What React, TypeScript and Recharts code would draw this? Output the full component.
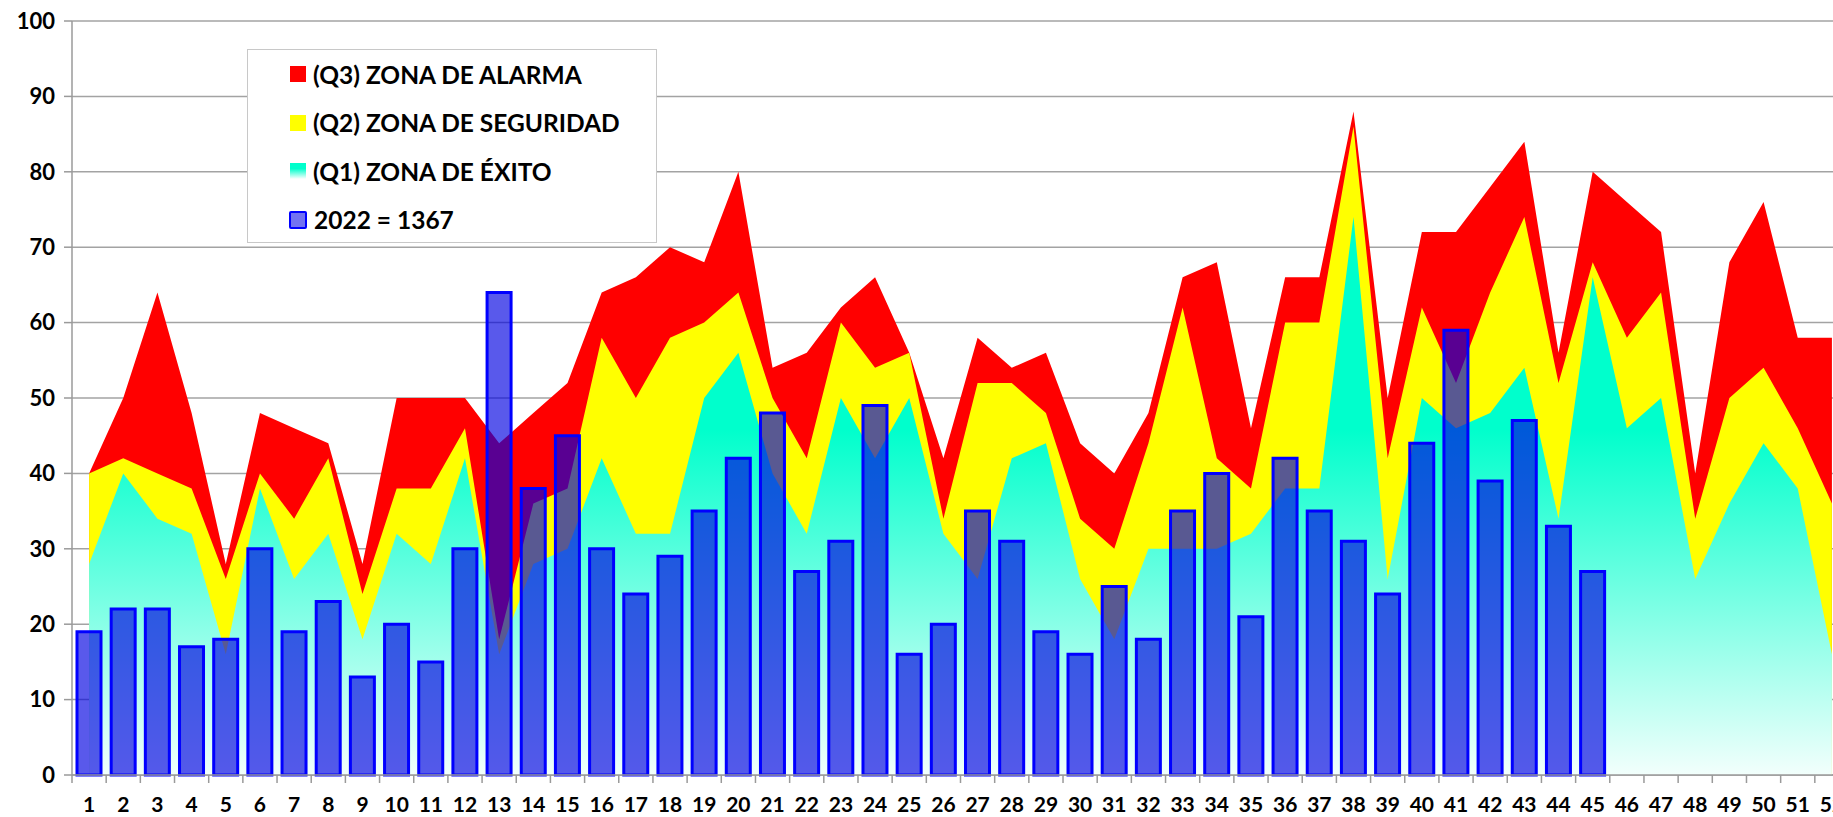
import React from 'react';
import { ComposedChart, Area, Bar, XAxis, YAxis, CartesianGrid } from 'recharts';

// semanas epidemiologicas
const weeks = [
  '1', '2', '3', '4', '5', '6', '7', '8', '9', '10', '11', '12', '13',
  '14', '15', '16', '17', '18', '19', '20', '21', '22', '23', '24', '25', '26',
  '27', '28', '29', '30', '31', '32', '33', '34', '35', '36', '37', '38', '39',
  '40', '41', '42', '43', '44', '45', '46', '47', '48', '49', '50', '51', '52',
];

// canal endemico (Q3 / Q2 / Q1)
const q3Alarma = [
  40, 50, 64, 48, 28, 48, 46, 44, 28, 50, 50, 50, 44,
  48, 52, 64, 66, 70, 68, 80, 54, 56, 62, 66, 56, 42,
  58, 54, 56, 44, 40, 48, 66, 68, 46, 66, 66, 88, 50,
  72, 72, 78, 84, 56, 80, 76, 72, 40, 68, 76, 58, 58,
];
const q2Seguridad = [
  40, 42, 40, 38, 26, 40, 34, 42, 24, 38, 38, 46, 18,
  36, 38, 58, 50, 58, 60, 64, 50, 42, 60, 54, 56, 34,
  52, 52, 48, 34, 30, 44, 62, 42, 38, 60, 60, 86, 42,
  62, 52, 64, 74, 52, 68, 58, 64, 34, 50, 54, 46, 36,
];
const q1Exito = [
  28, 40, 34, 32, 16, 38, 26, 32, 18, 32, 28, 42, 16,
  28, 30, 42, 32, 32, 50, 56, 40, 32, 50, 42, 50, 32,
  26, 42, 44, 26, 18, 30, 30, 30, 32, 38, 38, 74, 26,
  50, 46, 48, 54, 34, 66, 46, 50, 26, 36, 44, 38, 16,
];

// casos 2022 (hasta la semana 45)
const casos2022 = [
  19, 22, 22, 17, 18, 30, 19, 23, 13, 20, 15, 30, 64,
  38, 45, 30, 24, 29, 35, 42, 48, 27, 31, 49, 16, 20,
  35, 31, 19, 16, 25, 18, 35, 40, 21, 42, 35, 31, 24,
  44, 59, 39, 47, 33, 27,
];

const yTicks = [0, 10, 20, 30, 40, 50, 60, 70, 80, 90, 100];

const legendItems = [
  { label: '(Q3) ZONA DE ALARMA', kind: 'q3' },
  { label: '(Q2) ZONA DE SEGURIDAD', kind: 'q2' },
  { label: '(Q1) ZONA DE ÉXITO', kind: 'q1' },
  { label: '2022 = 1367', kind: 'bar' },
];

const data = weeks.map((w, i) => ({
  week: w,
  q3: q3Alarma[i],
  q2: q2Seguridad[i],
  q1: q1Exito[i],
  y2022: i < casos2022.length ? casos2022[i] : null,
}));

const FONT = 'Lato, "Open Sans", sans-serif';
const CHART_W = 1855;
const CHART_H = 817;
const Y_AXIS_W = 72;
const MARGIN_RIGHT = 6;
const BAND = (CHART_W - Y_AXIS_W - MARGIN_RIGHT) / weeks.length;

const WeekTick = ({ x, y, payload }: any) => (
  <g>
    <line x1={x - BAND / 2} x2={x - BAND / 2} y1={y - 25} y2={y - 17} stroke="#9a9a9a" strokeWidth={1.5} />
    <text x={x} y={y + 12} textAnchor="middle" fontFamily={FONT} fontWeight={700} fontSize={21} fill="#000">
      {payload.value}
    </text>
  </g>
);

const marker = (kind: string) => {
  const base: React.CSSProperties = { width: 16, height: 16, boxSizing: 'border-box', marginRight: 7 };
  if (kind === 'q3') return <div style={{ ...base, background: '#ff0000' }} />;
  if (kind === 'q2') return <div style={{ ...base, background: '#ffff00' }} />;
  if (kind === 'q1') return <div style={{ ...base, background: 'linear-gradient(#00ffcc 35%, #ffffff)' }} />;
  return <div style={{ ...base, width: 18, height: 18, background: '#7272f2', border: '2.5px solid #0000ff', borderRadius: 2, marginLeft: -1 }} />;
};

export default function App() {
  return (
    <div style={{ position: 'absolute', left: 0, top: 0, width: 1833, height: 817, overflow: 'hidden', background: '#fff' }}>
      <ComposedChart width={CHART_W} height={CHART_H} data={data} margin={{ top: 21, right: MARGIN_RIGHT, bottom: 0, left: 0 }}>
        <defs>
          <linearGradient id="exitoFill" x1="0" y1="0" x2="0" y2="1">
            <stop offset="0%" stopColor="#00ffcc" />
            <stop offset="38%" stopColor="#00ffcc" />
            <stop offset="100%" stopColor="#f2fffc" />
          </linearGradient>
        </defs>
        <CartesianGrid vertical={false} stroke="#a3a3a3" strokeWidth={1.5} />
        <XAxis
          dataKey="week"
          interval={0}
          height={42}
          tickSize={8}
          tickMargin={17}
          tickLine={false}
          axisLine={{ stroke: '#9a9a9a', strokeWidth: 1.5 }}
          tick={<WeekTick />}
        />
        <YAxis
          domain={[0, 100]}
          ticks={yTicks}
          width={Y_AXIS_W}
          tickSize={8}
          tickMargin={9}
          axisLine={{ stroke: '#9a9a9a', strokeWidth: 1.5 }}
          tickLine={{ stroke: '#9a9a9a', strokeWidth: 1.5 }}
          tick={{ fontFamily: FONT, fontWeight: 700, fontSize: 22, fill: '#000' }}
        />
        <Area type="linear" dataKey="q3" fill="#ff0000" fillOpacity={1} stroke="none" dot={false} activeDot={false} isAnimationActive={false} />
        <Area type="linear" dataKey="q2" fill="#ffff00" fillOpacity={1} stroke="none" dot={false} activeDot={false} isAnimationActive={false} />
        <Area type="linear" dataKey="q1" fill="url(#exitoFill)" fillOpacity={1} stroke="none" dot={false} activeDot={false} isAnimationActive={false} />
        <Bar dataKey="y2022" barSize={24} fill="#0000e0" fillOpacity={0.65} stroke="#0000ff" strokeWidth={3} isAnimationActive={false} />
      </ComposedChart>

      {/* leyenda, encima de la rejilla */}
      <div
        style={{
          position: 'absolute', left: 247, top: 49, width: 410, height: 194, boxSizing: 'border-box',
          background: '#fff', border: '1.5px solid #c8c8c8', paddingLeft: 42, paddingTop: 0,
          fontFamily: FONT, fontWeight: 700, fontSize: 24.5, color: '#000',
        }}
      >
        {legendItems.map((it) => (
          <div key={it.kind} style={{ display: 'flex', alignItems: 'center', height: 48.5 }}>
            {marker(it.kind)}
            <span>{it.label}</span>
          </div>
        ))}
      </div>
    </div>
  );
}
